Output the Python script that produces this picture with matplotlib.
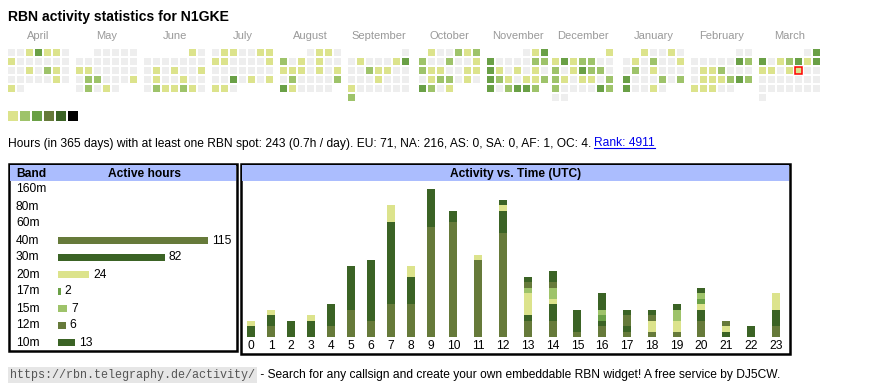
import datetime as dt
import numpy as np
import matplotlib.pyplot as plt
from matplotlib.patches import Rectangle

plt.rcParams['font.family'] = ['Liberation Sans', 'DejaVu Sans']

W, H = 870, 390

# activity level per day (0 = no spot), April 2024 .. March 2025
lv_apr = [0, 0, 1, 3, 1, 1, 0, 1, 0, 0, 0, 0, 0, 0, 0, 0, 1, 0, 2, 1, 0, 0, 0, 0, 0, 0, 1, 0, 1, 0]
lv_may = [0, 0, 0, 0, 0, 0, 0, 0, 0, 0, 0, 0, 1, 1, 0, 0, 0, 0, 0, 0, 2, 2, 0, 0, 0, 1, 0, 2, 0, 1, 0]
lv_jun = [1, 0, 0, 0, 0, 0, 0, 0, 0, 0, 1, 0, 1, 0, 0, 1, 0, 1, 0, 0, 1, 0, 0, 0, 2, 1, 1, 2, 1, 0]
lv_jul = [0, 1, 1, 0, 0, 1, 1, 1, 1, 0, 0, 0, 0, 1, 0, 0, 0, 0, 0, 0, 0, 0, 0, 3, 0, 1, 0, 1, 1, 1, 0]
lv_aug = [0, 1, 1, 0, 2, 0, 1, 0, 1, 0, 0, 1, 1, 1, 0, 1, 0, 1, 0, 2, 0, 0, 0, 0, 2, 3, 1, 0, 0, 0, 0]
lv_sep = [0, 0, 1, 0, 0, 0, 1, 3, 0, 0, 2, 1, 1, 0, 0, 0, 0, 0, 1, 0, 0, 0, 1, 0, 0, 0, 0, 0, 0, 2]
lv_oct = [1, 0, 0, 2, 1, 2, 2, 0, 0, 2, 0, 0, 1, 2, 1, 1, 0, 0, 1, 1, 0, 1, 2, 2, 0, 1, 0, 3, 2, 0, 1]
lv_nov = [0, 1, 3, 3, 0, 0, 0, 0, 2, 2, 3, 1, 0, 1, 0, 1, 0, 3, 2, 1, 0, 1, 1, 2, 3, 0, 2, 3, 3, 2]
lv_dec = [1, 1, 3, 1, 2, 2, 0, 0, 2, 0, 1, 3, 2, 2, 0, 2, 1, 0, 1, 1, 0, 2, 2, 0, 0, 0, 0, 3, 2, 0, 0]
lv_jan = [1, 0, 0, 1, 0, 0, 1, 0, 2, 0, 0, 1, 0, 2, 0, 1, 0, 0, 0, 3, 0, 0, 0, 2, 0, 2, 3, 0, 0, 1, 0]
lv_feb = [0, 0, 0, 0, 0, 0, 0, 3, 2, 0, 1, 1, 2, 0, 0, 0, 0, 1, 1, 1, 2, 3, 2, 1, 1, 1, 0, 0]
lv_mar = [0, 3, 3, 0, 1, 2, 3, 1, 3, 1, 1, 0, 1, 1, 0, 0, 0, 0, 0, 0, 0, 0, 0, 0, 0, 0, 0, 0, 0, 0, 0]

month_names = ['April', 'May', 'June', 'July', 'August', 'September', 'October',
               'November', 'December', 'January', 'February', 'March']
month_first = [(2024, 4), (2024, 5), (2024, 6), (2024, 7), (2024, 8), (2024, 9),
               (2024, 10), (2024, 11), (2024, 12), (2025, 1), (2025, 2), (2025, 3)]
month_levels = [lv_apr, lv_may, lv_jun, lv_jul, lv_aug, lv_sep,
                lv_oct, lv_nov, lv_dec, lv_jan, lv_feb, lv_mar]
month_x = [8, 76, 144, 212, 280, 348, 419, 487, 552, 623, 691, 759]
today = dt.date(2025, 3, 14)

level_colors = ['#eeeeee', '#dce38c', '#9ec36a', '#6aa046', '#667a3a', '#3b6325', '#000000']

bands = ['160m', '80m', '60m', '40m', '30m', '20m', '17m', '15m', '12m', '10m']
band_hours = [0, 0, 0, 115, 82, 24, 2, 7, 6, 13]
band_colors = ['#dce38c', '#9ec36a', '#6aa046', '#667a3a', '#3b6325',
               '#dce38c', '#6aa046', '#9ec36a', '#667a3a', '#3b6325']

hours = list(range(24))
h40 = [0, 2, 0, 0, 2, 5, 3, 6, 6, 20, 21, 14, 19, 3, 3, 1, 2, 1, 1, 1, 3, 0, 0, 2]
h30 = [2, 2, 3, 3, 4, 8, 11, 15, 5, 7, 2, 0, 4, 1, 3, 4, 1, 1, 0, 0, 2, 1, 0, 3]
h20 = [1, 1, 0, 1, 0, 0, 0, 3, 2, 0, 0, 1, 1, 4, 1, 0, 0, 0, 2, 2, 1, 1, 0, 3]
h17 = [0, 0, 0, 0, 0, 0, 0, 0, 0, 0, 0, 0, 0, 0, 0, 0, 1, 0, 0, 0, 1, 0, 0, 0]
h15 = [0, 0, 0, 0, 0, 0, 0, 0, 0, 0, 0, 0, 0, 1, 2, 0, 1, 0, 0, 2, 1, 0, 0, 0]
h12 = [0, 0, 0, 0, 0, 0, 0, 0, 0, 0, 0, 0, 0, 1, 1, 0, 0, 2, 1, 0, 0, 1, 0, 0]
h10 = [0, 0, 0, 0, 0, 0, 0, 0, 0, 0, 0, 0, 1, 1, 2, 0, 3, 1, 1, 1, 1, 0, 2, 0]
stack = [h40, h30, h20, h17, h15, h12, h10]
stack_colors = ['#667a3a', '#3b6325', '#dce38c', '#6aa046', '#9ec36a', '#667a3a', '#3b6325']

title = 'RBN activity statistics for N1GKE'
stats_text = ('Hours (in 365 days) with at least one RBN spot: 243 (0.7h / day). '
              'EU: 71, NA: 216, AS: 0, SA: 0, AF: 1, OC: 4.')
rank_text = 'Rank: 4911'
url_text = 'https://rbn.telegraphy.de/activity/'
footer_text = ' - Search for any callsign and create your own embeddable RBN widget! A free service by DJ5CW.'

FS = 8.65
header_blue = '#abbdfe'

fig = plt.figure(figsize=(W / 100, H / 100), dpi=100)
base = fig.add_axes([0, 0, 1, 1])
base.set_xlim(0, W)
base.set_ylim(H, 0)
base.axis('off')


def sub_axes(x0, y0, x1, y1):
    ax = fig.add_axes([x0 / W, 1 - y1 / H, (x1 - x0) / W, (y1 - y0) / H])
    ax.set_facecolor('none')
    for s in ax.spines.values():
        s.set_visible(False)
    return ax


base.text(8, 20.5, title, fontsize=10.1, fontweight='bold')

# calendar
for (yr, mo), levels, name, x0 in zip(month_first, month_levels, month_names, month_x):
    first = dt.date(yr, mo, 1).weekday()
    for d, lv in enumerate(levels):
        r, c = divmod(first + d, 7)
        edge = 'red' if dt.date(yr, mo, d + 1) == today else 'none'
        base.add_patch(Rectangle((x0 + 9 * c, 49 + 9 * r), 7, 7, facecolor=level_colors[lv],
                                 edgecolor=edge, lw=1.1))
    base.text(x0 + 30.5, 39, name, ha='center', fontsize=8.0, color='#999999')

for i, c in enumerate(level_colors[1:]):
    base.add_patch(Rectangle((8 + 12 * i, 111), 10, 10, facecolor=c, edgecolor='none'))

# stats line
t = base.text(8, 146.5, stats_text, fontsize=FS)
fig.canvas.draw()
x_end = t.get_window_extent().x1 + 3
r = base.text(x_end, 146.5, rank_text, fontsize=FS, color='#0000ee')
fig.canvas.draw()
rb = r.get_window_extent()
base.plot([rb.x0, rb.x1], [148, 148], color='#0000ee', lw=0.8)

# panels
base.add_patch(Rectangle((9, 164), 228, 187, fill=False, lw=1.8, ec='black'))
base.add_patch(Rectangle((10, 165), 226, 16, facecolor=header_blue, ec='none'))
base.text(16, 177, 'Band', fontsize=FS, fontweight='bold')
base.text(145, 177, 'Active hours', fontsize=FS, fontweight='bold', ha='center')

base.add_patch(Rectangle((241, 164), 549, 190, fill=False, lw=1.8, ec='black'))
base.add_patch(Rectangle((242, 165), 547, 16, facecolor=header_blue, ec='none'))
base.text(515.5, 177, 'Activity vs. Time (UTC)', fontsize=FS, fontweight='bold', ha='center')

# band table
ax1 = sub_axes(10, 181, 236, 350)
px_per_hour = 150 / 115
ax1.set_xlim(-48 / px_per_hour, 178 / px_per_hour)
ax1.set_ylim(160.5 / 17, -8.5 / 17)
yy = np.arange(len(bands))
ax1.barh(yy, band_hours, height=7 / 17, color=band_colors)
for i, (b, v) in enumerate(zip(bands, band_hours)):
    ax1.text(6 / 226, i, b, transform=ax1.get_yaxis_transform(), va='center', fontsize=FS)
    if v > 0:
        ax1.annotate(str(v), (v, i), xytext=(4, 0), textcoords='offset pixels',
                     va='center', fontsize=FS)
ax1.set_xticks([])
ax1.set_yticks([])

# activity vs time
ax2 = sub_axes(242, 181, 789, 337)
col_w = np.where(np.array(hours) < 10, 20.0, 24.8)
centers = 241 + np.cumsum(col_w) - col_w / 2
ax2.set_xlim(242, 789)
ax2.set_ylim(0, 156 / 5.5)
bottom = np.zeros(len(hours))
for vals, c in zip(stack, stack_colors):
    ax2.bar(centers, vals, width=8, bottom=bottom, color=c)
    bottom += np.array(vals)
ax2.set_xticks(centers, [str(h) for h in hours])
ax2.tick_params(length=0, pad=2.3, labelsize=FS)
ax2.set_yticks([])

# footer
u = base.text(10, 378, url_text, family='Liberation Mono', fontsize=8.45, color='#555555',
              bbox=dict(boxstyle='square,pad=0.15', fc='#e6e6e6', ec='none'))
fig.canvas.draw()
ub = u.get_window_extent()
base.text(ub.x1 + 2, 378, footer_text, fontsize=FS)

fig.savefig('out.png', dpi=100)
